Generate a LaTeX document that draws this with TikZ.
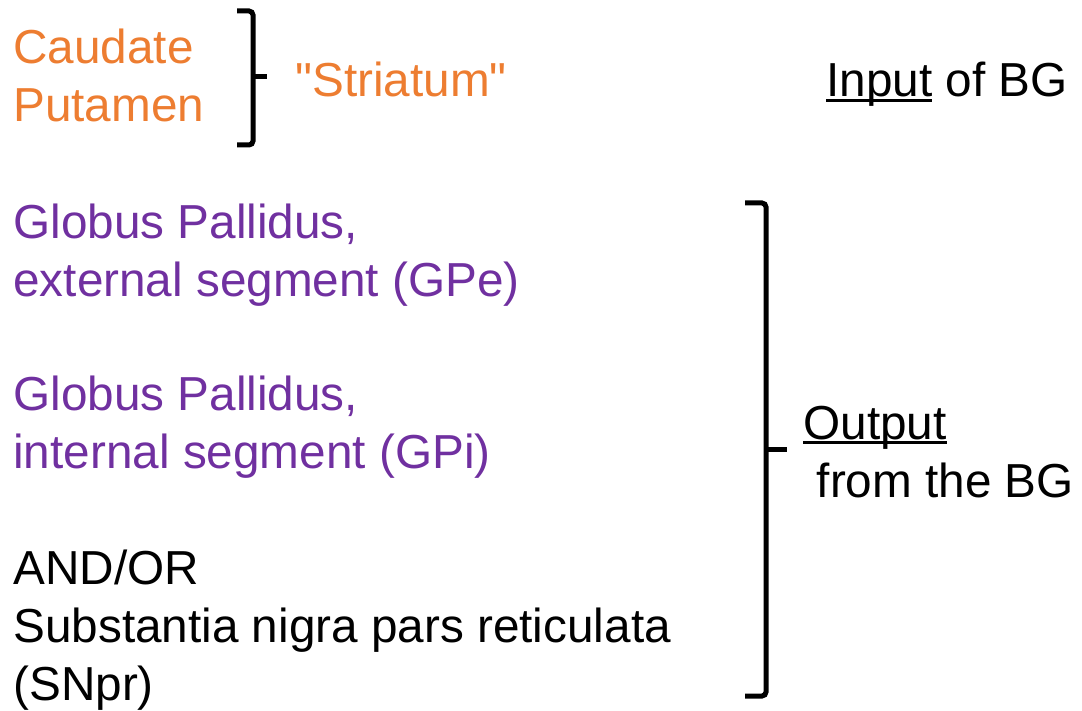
\documentclass[tikz,border=0pt]{standalone}
\usepackage{fontspec}
\setmainfont{Liberation Sans}

\definecolor{striatcol}{RGB}{237,125,49}
\definecolor{pallidcol}{RGB}{112,48,160}

% underline that runs through the descenders
\newcommand{\undl}[1]{\setbox0\hbox{#1}\rlap{\rule[-0.106em]{\wd0}{0.073em}}\box0\relax}

\begin{document}
\begin{tikzpicture}[x=0.5pt,y=-0.5pt,
  every node/.style={inner sep=0pt,anchor=base west,align=left,font={\fontsize{23.85}{29}\selectfont}},
  brace/.style={line width=2.5pt,rounded corners=2pt}]

			\useasboundingbox (0,0) rectangle (1082,711);

			%striatum (base = last line)
			\node[text=striatcol] (caud) at (13,122) {Caudate\\Putamen};
			\node[text=striatcol] (striat) at (295,97) {\textquotedbl Striatum\textquotedbl};
			\node (input) at (826,97) {\undl{Input} of BG};

			%pallidum and nigra
			\node[text=pallidcol] (gpe) at (13,297) {Globus Pallidus,\\external segment (GPe)};
			\node[text=pallidcol] (gpi) at (13,468) {Globus Pallidus,\\internal segment (GPi)};
			\node (snpr) at (13,700) {AND/OR\\Substantia nigra pars reticulata\\(SNpr)};
			\node (output) at (803,497) {\undl{Output}\\\hspace*{.28em}from the BG};

			%braces
			\draw[brace] (237,11) -- (253,11) -- (253,145) -- (237,145);
			\draw[line width=2.5pt] (253,77) -- (267,77);
			\draw[brace] (745,203) -- (766,203) -- (766,696) -- (745,696);
			\draw[line width=2.5pt] (766,449) -- (787,449);
		\end{tikzpicture}
\end{document}
